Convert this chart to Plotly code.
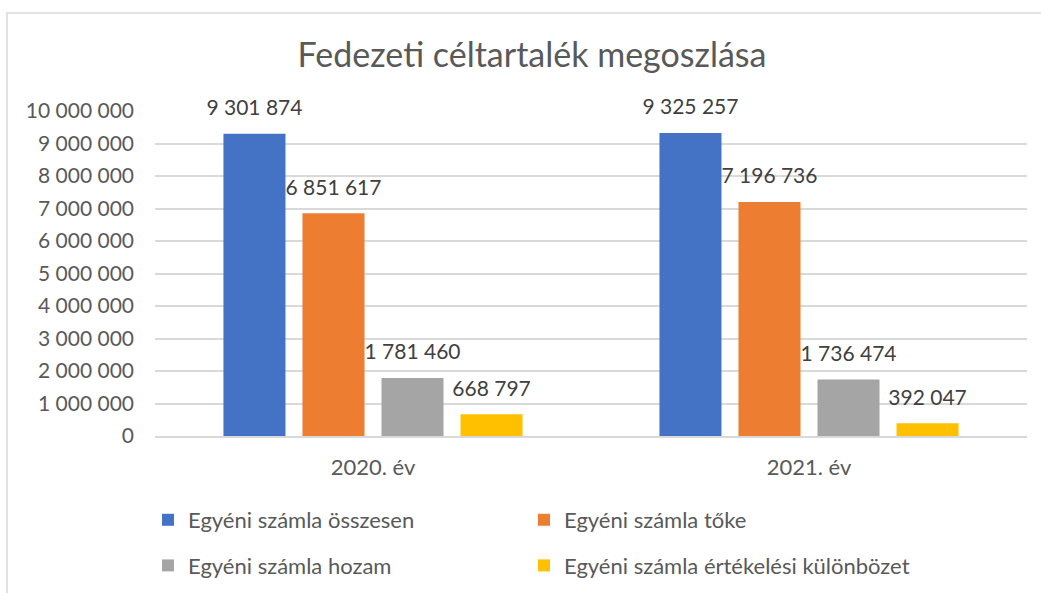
import plotly.graph_objects as go

categories = ["2020. év", "2021. év"]
series_names = [
    "Egyéni számla összesen",
    "Egyéni számla tőke",
    "Egyéni számla hozam",
    "Egyéni számla értékelési különbözet",
]
osszesen = [9301874, 9325257]
toke = [6851617, 7196736]
hozam = [1781460, 1736474]
ertekelesi = [668797, 392047]
series_values = [osszesen, toke, hozam, ertekelesi]
colors = ["#4472C4", "#ED7D31", "#A5A5A5", "#FFC000"]
legend_ids = ["legend", "legend2", "legend", "legend2"]
y_ticks = list(range(0, 10000001, 1000000))

W, H = 1041, 593
ML, MR, MT, MB = 155, 14, 111, 157
PW, PH = W - ML - MR, H - MT - MB

def px_to_paper_x(px):
    return (px - ML) / PW

def px_to_paper_y(py):
    return 1 - (py - MT) / PH

FONT = "Lato"
fig = go.Figure()

for i, (name, vals, col) in enumerate(zip(series_names, series_values, colors)):
    fig.add_trace(go.Bar(
        x=categories, y=vals, name=name,
        marker=dict(color=col, line=dict(width=0)),
        offsetgroup=str(i),
        legend=legend_ids[i], legendgroup=str(i),
        hovertemplate="%{x}<br>" + name + ": %{y:,d}<extra></extra>",
    ))

for i, (name, vals) in enumerate(zip(series_names, series_values)):
    fig.add_trace(go.Scatter(
        x=categories, y=vals, mode="markers+text",
        text=[f"{v:,}".replace(",", " ") for v in vals],
        textposition="top center",
        textfont=dict(family=FONT, size=21, color="#404040"),
        marker=dict(size=20, opacity=0),
        offsetgroup=str(i),
        showlegend=False, hoverinfo="skip", cliponaxis=False,
    ))

fig.update_layout(
    width=W, height=H,
    margin=dict(l=ML, r=MR, t=MT, b=MB, autoexpand=False),
    paper_bgcolor="white", plot_bgcolor="white",
    separators=", ",
    barmode="group", bargap=0.275, bargroupgap=0.215,
    scattermode="group", scattergap=0.275,
    font=dict(family=FONT, color="#595959", size=21),
    title=dict(
        text="Fedezeti céltartalék megoszlása",
        font=dict(family=FONT, size=34, color="#595959"),
        x=532 / W, xref="container", xanchor="center",
        y=1 - 55 / H, yref="container", yanchor="middle",
    ),
    xaxis=dict(
        type="category", showgrid=False, showline=True,
        linecolor="#D9D9D9", linewidth=1.5,
        ticks="", ticklabelstandoff=11,
        tickfont=dict(family=FONT, size=22, color="#595959"),
    ),
    yaxis=dict(
        range=[0, 10000000], tickvals=y_ticks, tickformat=",d",
        showgrid=True, gridcolor="#D9D9D9", gridwidth=1.5,
        zeroline=False, showline=False, ticks="", ticklabelstandoff=20,
        tickfont=dict(family=FONT, size=21, color="#595959"),
    ),
    legend=dict(
        orientation="v", x=px_to_paper_x(148), xanchor="left",
        y=px_to_paper_y(499), yanchor="top",
        font=dict(family=FONT, size=22, color="#595959"),
        tracegroupgap=14, bgcolor="rgba(0,0,0,0)",
    ),
    legend2=dict(
        orientation="v", x=px_to_paper_x(524), xanchor="left",
        y=px_to_paper_y(499), yanchor="top",
        font=dict(family=FONT, size=22, color="#595959"),
        tracegroupgap=14, bgcolor="rgba(0,0,0,0)",
    ),
    shapes=[dict(
        type="rect", xref="paper", yref="paper", layer="below",
        x0=px_to_paper_x(7), x1=px_to_paper_x(W + 20),
        y0=px_to_paper_y(H + 20), y1=px_to_paper_y(13),
        line=dict(color="#D9D9D9", width=1.5), fillcolor="rgba(0,0,0,0)",
    )],
)

fig.write_html(
    "out.html",
    config={"displayModeBar": False},
    post_script="document.body.style.margin='0';document.body.style.overflow='hidden';",
)
